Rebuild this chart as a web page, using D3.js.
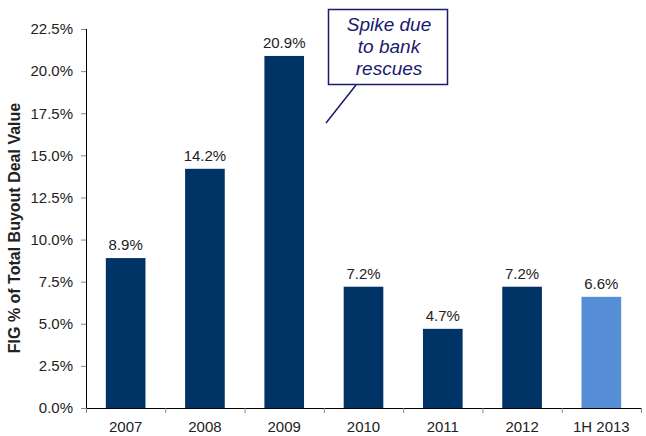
<!DOCTYPE html>
<html>
<head>
<meta charset="utf-8">
<script src="https://cdn.jsdelivr.net/npm/d3@7/dist/d3.min.js"></script>
<style>
    body { margin: 0; background: #fff; }
    svg text { font-family: "Liberation Sans", Arial, sans-serif; }
</style>
</head>
<body>
<div id="chart"></div>
<script>
    'use strict';

    var categories = ['2007', '2008', '2009', '2010', '2011', '2012', '1H 2013'],
        values = [8.9, 14.2, 20.9, 7.2, 4.7, 7.2, 6.6],
        partial = [false, false, false, false, false, false, true],
        yTicks = [0, 2.5, 5, 7.5, 10, 12.5, 15, 17.5, 20, 22.5],
        calloutLines = ['Spike due', 'to bank', 'rescues'];

    var width = 646,
        height = 436,
        margin = { top: 29, right: 5, bottom: 28, left: 86 },
        innerW = width - margin.left - margin.right,
        innerH = height - margin.top - margin.bottom;

    var svg = d3.select('#chart').append('svg')
        .attr('width', width)
        .attr('height', height);

    var g = svg.append('g')
        .attr('transform', 'translate(' + margin.left + ',' + margin.top + ')');

    var x = d3.scaleBand()
        .domain(categories)
        .range([0, innerW])
        .paddingInner(0.5)
        .paddingOuter(0.25);

    var y = d3.scaleLinear()
        .domain([0, 22.5])
        .range([innerH, 0]);

    // y axis
    var yAxis = g.append('g')
        .call(d3.axisLeft(y)
            .tickValues(yTicks)
            .tickSize(5)
            .tickPadding(8)
            .tickFormat(function (d) { return d3.format('.1f')(d) + '%'; }));
    yAxis.select('.domain').attr('stroke', '#000').attr('d', 'M0.5,0V' + innerH);
    yAxis.selectAll('.tick line').attr('stroke', '#888');
    yAxis.selectAll('text')
        .attr('font-size', 15)
        .attr('fill', '#222');

    // x axis
    var band = innerW / categories.length;
    var xAxis = g.append('g')
        .attr('transform', 'translate(0,' + innerH + ')')
        .call(d3.axisBottom(x).tickSize(0).tickPadding(13));
    xAxis.select('.domain').attr('stroke', '#000').attr('d', 'M0,0.5H' + innerW);
    xAxis.selectAll('text')
        .attr('font-size', 15)
        .attr('fill', '#222');

    g.append('g').selectAll('line')
        .data(d3.range(categories.length + 1))
        .enter()
        .append('line')
        .attr('x1', function (i) { return i * band + 0.5; })
        .attr('x2', function (i) { return i * band + 0.5; })
        .attr('y1', innerH)
        .attr('y2', innerH + 5)
        .attr('stroke', '#888');

    // bars
    g.selectAll('.bar')
        .data(values)
        .enter()
        .append('rect')
        .attr('class', 'bar')
        .attr('x', function (d, i) { return x(categories[i]); })
        .attr('y', function (d) { return y(d); })
        .attr('width', x.bandwidth())
        .attr('height', function (d) { return innerH - y(d); })
        .attr('fill', function (d, i) { return partial[i] ? '#558ED5' : '#003366'; });

    // value labels
    g.selectAll('.label')
        .data(values)
        .enter()
        .append('text')
        .attr('class', 'label')
        .attr('x', function (d, i) { return x(categories[i]) + x.bandwidth() / 2; })
        .attr('y', function (d) { return y(d) - 8; })
        .attr('text-anchor', 'middle')
        .attr('font-size', 15)
        .attr('fill', '#222')
        .text(function (d) { return d.toFixed(1) + '%'; });

    // y axis title
    svg.append('text')
        .attr('transform', 'translate(20,228) rotate(-90)')
        .attr('text-anchor', 'middle')
        .attr('font-size', 16)
        .attr('font-weight', 'bold')
        .attr('fill', '#222')
        .text('FIG % of Total Buyout Deal Value');

    // callout
    var callout = svg.append('g');
    callout.append('line')
        .attr('x1', 356).attr('y1', 85)
        .attr('x2', 326).attr('y2', 123)
        .attr('stroke', '#1a1a6e')
        .attr('stroke-width', 1.5);
    callout.append('rect')
        .attr('x', 328.5).attr('y', 9.5)
        .attr('width', 119).attr('height', 75)
        .attr('fill', '#fff')
        .attr('stroke', '#1a1a6e')
        .attr('stroke-width', 1.5);
    callout.selectAll('text')
        .data(calloutLines)
        .enter()
        .append('text')
        .attr('x', 389)
        .attr('y', function (d, i) { return 31 + i * 22; })
        .attr('text-anchor', 'middle')
        .attr('font-size', 19)
        .attr('font-style', 'italic')
        .attr('fill', '#1a1a6e')
        .text(function (d) { return d; });
</script>
</body>
</html>
